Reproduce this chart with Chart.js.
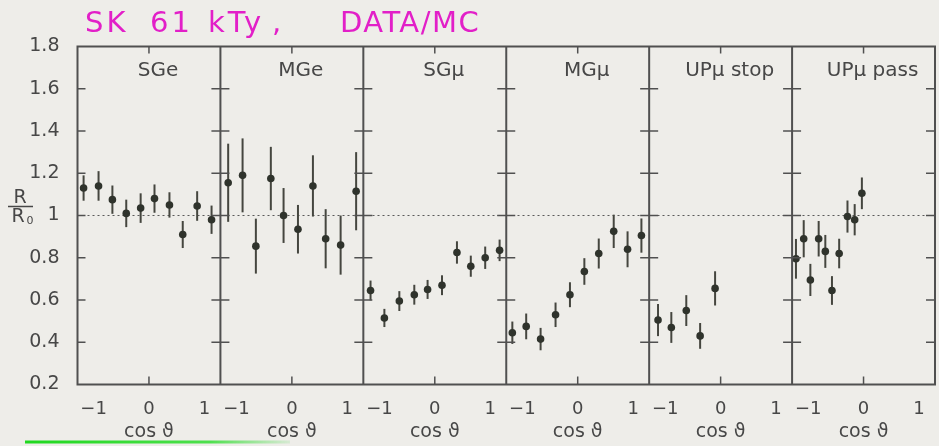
<!DOCTYPE html>
<html>
<head>
<meta charset="utf-8">
<script src="https://cdn.jsdelivr.net/npm/chart.js@4.4.0/dist/chart.umd.min.js"></script>
<style>
  html, body { margin: 0; padding: 0; background: #eeede9; overflow: hidden; }
  #wrap { position: relative; width: 939px; height: 446px; }
</style>
</head>
<body>
<div id="wrap"><canvas id="ratioChart" width="939" height="446"></canvas></div>
<script>
// R/R0 (data / MC) vs cos(theta), SK 61 kTy
const panels = ['SGe', 'MGe', 'SG\u03bc', 'MG\u03bc', 'UP\u03bc stop', 'UP\u03bc pass'];
const yTicks = [0.2, 0.4, 0.6, 0.8, 1.0, 1.2, 1.4, 1.6, 1.8];
const xTicks = [-1, 0, 1];

const sgeCos   = [-1.18, -0.91, -0.66, -0.41, -0.15, 0.10, 0.37, 0.61, 0.87, 1.13];
const sgeRatio = [1.13, 1.14, 1.075, 1.01, 1.035, 1.08, 1.05, 0.91, 1.045, 0.98];
const sgeErr   = [0.06, 0.07, 0.067, 0.065, 0.07, 0.067, 0.06, 0.064, 0.07, 0.067];

const mgeCos   = [-1.15, -0.89, -0.65, -0.38, -0.15, 0.11, 0.38, 0.61, 0.88, 1.16];
const mgeRatio = [1.155, 1.19, 0.855, 1.175, 1.0, 0.935, 1.14, 0.89, 0.86, 1.115];
const mgeErr   = [0.185, 0.175, 0.13, 0.15, 0.13, 0.115, 0.145, 0.14, 0.14, 0.185];

const sgmCos   = [-1.16, -0.91, -0.64, -0.37, -0.13, 0.13, 0.40, 0.65, 0.91, 1.17];
const sgmRatio = [0.645, 0.515, 0.595, 0.625, 0.65, 0.67, 0.825, 0.76, 0.80, 0.835];
const sgmErr   = [0.047, 0.043, 0.047, 0.047, 0.045, 0.047, 0.053, 0.05, 0.053, 0.051];

const mgmCos   = [-1.18, -0.93, -0.67, -0.40, -0.14, 0.12, 0.38, 0.65, 0.90, 1.15];
const mgmRatio = [0.445, 0.475, 0.415, 0.53, 0.625, 0.735, 0.82, 0.925, 0.84, 0.905];
const mgmErr   = [0.053, 0.061, 0.053, 0.058, 0.059, 0.063, 0.071, 0.079, 0.085, 0.081];

const stopCos   = [-1.13, -0.89, -0.62, -0.37, -0.10];
const stopRatio = [0.505, 0.47, 0.55, 0.43, 0.655];
const stopErr   = [0.076, 0.073, 0.073, 0.061, 0.081];

const passCos   = [-1.22, -1.08, -0.96, -0.81, -0.69, -0.57, -0.44, -0.29, -0.16, -0.03];
const passRatio = [0.795, 0.89, 0.695, 0.89, 0.83, 0.645, 0.82, 0.995, 0.98, 1.105];
const passErr   = [0.094, 0.088, 0.076, 0.084, 0.078, 0.068, 0.07, 0.076, 0.074, 0.075];

const series = [
  [sgeCos, sgeRatio, sgeErr],
  [mgeCos, mgeRatio, mgeErr],
  [sgmCos, sgmRatio, sgmErr],
  [mgmCos, mgmRatio, mgmErr],
  [stopCos, stopRatio, stopErr],
  [passCos, passRatio, passErr]
];

const FONT = 'DejaVu Sans';
const INK = '#474747';
const LINE = '#505050';
const DOT = '#2f332c';

const datasets = series.map(([cos, ratio, err], i) => ({
  label: panels[i],
  xAxisID: 'x' + i,
  yAxisID: 'y',
  data: cos.map((c, j) => ({ x: c, y: ratio[j] })),
  errors: err,
  pointRadius: 3.8,
  pointBackgroundColor: DOT,
  pointBorderWidth: 0,
  showLine: false
}));

const scales = {};
panels.forEach((name, i) => {
  scales['x' + i] = {
    type: 'linear',
    position: 'bottom',
    stack: 'panels',
    stackWeight: 1,
    min: -1.29,
    max: 1.29,
    afterBuildTicks: s => { s.ticks = xTicks.map(v => ({ value: v })); },
    afterFit: s => { s.height = 61.5; },
    ticks: {
      autoSkip: false,
      maxRotation: 0,
      padding: 6,
      color: INK,
      font: { family: FONT, size: 18 },
      callback: v => (v < 0 ? '\u2212' + Math.abs(v) : String(v))
    },
    grid: { display: false },
    border: { display: false },
    title: {
      display: true,
      text: 'cos \u03d1',
      color: INK,
      font: { family: FONT, size: 19 },
      padding: { top: 0, bottom: 3 }
    }
  };
});
scales.y = {
  type: 'linear',
  position: 'left',
  min: 0.2,
  max: 1.8,
  afterBuildTicks: s => { s.ticks = yTicks.map(v => ({ value: v })); },
  afterFit: s => { s.width = 77.5; },
  ticks: {
    padding: 10,
    color: INK,
    font: { family: FONT, size: 19 },
    callback: v => String(+v.toFixed(1))
  },
  grid: { display: false },
  border: { display: false }
};

function seg(ctx, x1, y1, x2, y2) {
  ctx.beginPath();
  ctx.moveTo(x1, y1);
  ctx.lineTo(x2, y2);
  ctx.stroke();
}

// dotted R/R0 = 1 line and the error bars, under the points
const errorBars = {
  id: 'errorBars',
  beforeDatasetsDraw(chart) {
    const { ctx, chartArea: a, scales: sc } = chart;
    const y = sc.y;
    ctx.save();
    ctx.strokeStyle = '#5a5a5a';
    ctx.lineWidth = 1.2;
    ctx.setLineDash([2, 3]);
    const y1 = y.getPixelForValue(1);
    seg(ctx, a.left, y1, a.right, y1);
    ctx.setLineDash([]);

    ctx.strokeStyle = '#45463f';
    ctx.lineWidth = 2;
    chart.data.datasets.forEach(ds => {
      const xs = sc[ds.xAxisID];
      ds.data.forEach((p, j) => {
        const px = xs.getPixelForValue(p.x);
        seg(ctx, px, y.getPixelForValue(p.y + ds.errors[j]), px, y.getPixelForValue(p.y - ds.errors[j]));
      });
    });
    ctx.restore();
  }
};

// panel frames, inward ticks and panel names
const panelFrame = {
  id: 'panelFrame',
  afterDatasetsDraw(chart) {
    const { ctx, chartArea: a, scales: sc } = chart;
    const y = sc.y;
    ctx.save();
    ctx.strokeStyle = LINE;
    ctx.lineWidth = 2;
    ctx.strokeRect(a.left, a.top, a.width, a.height);

    const inner = panels.slice(1).map((_, i) => sc['x' + (i + 1)].left);
    inner.forEach(xb => seg(ctx, xb, a.top, xb, a.bottom));

    ctx.lineWidth = 1.5;
    yTicks.slice(1, -1).forEach(v => {
      const py = y.getPixelForValue(v);
      seg(ctx, a.left, py, a.left + 8, py);
      inner.forEach(xb => seg(ctx, xb - 9, py, xb + 9, py));
      seg(ctx, a.right - 9, py, a.right, py);
    });

    ctx.fillStyle = INK;
    ctx.font = '20px "' + FONT + '"';
    ctx.textAlign = 'center';
    ctx.textBaseline = 'middle';
    panels.forEach((name, i) => {
      const xs = sc['x' + i];
      const x0 = xs.getPixelForValue(0);
      seg(ctx, x0, a.top, x0, a.top + 7);
      seg(ctx, x0, a.bottom - 8, x0, a.bottom);
      ctx.fillText(name, (xs.left + xs.right) / 2 + 9, 71);
    });
    ctx.restore();
  },
  afterDraw(chart) {
    const { ctx } = chart;
    ctx.save();
    // y axis label R / R0
    ctx.fillStyle = INK;
    ctx.strokeStyle = INK;
    ctx.font = '19px "' + FONT + '"';
    ctx.textAlign = 'center';
    ctx.textBaseline = 'alphabetic';
    ctx.fillText('R', 20, 203);
    ctx.lineWidth = 1.5;
    seg(ctx, 8, 206.5, 33, 206.5);
    ctx.fillText('R', 18, 222);
    ctx.font = '11px "' + FONT + '"';
    ctx.fillText('0', 30, 224);

    // handwritten header
    ctx.fillStyle = '#e21fc8';
    ctx.font = '29px "' + FONT + '"';
    ctx.textAlign = 'left';
    ctx.letterSpacing = '3px';
    ctx.fillText('SK', 85, 32);
    ctx.fillText('61', 150, 32);
    ctx.fillText('kTy', 208, 32);
    ctx.fillText(',', 272, 32);
    ctx.letterSpacing = '1.5px';
    ctx.fillText('DATA/MC', 340, 32);
    ctx.letterSpacing = '0px';

    // green marker stroke at the bottom
    const g = ctx.createLinearGradient(25, 0, 290, 0);
    g.addColorStop(0, '#1fd81f');
    g.addColorStop(0.7, '#4ee04e');
    g.addColorStop(1, 'rgba(90,220,90,0.15)');
    ctx.strokeStyle = g;
    ctx.lineWidth = 3;
    seg(ctx, 25, 442, 290, 442);
    ctx.restore();
  }
};

new Chart(document.getElementById('ratioChart'), {
  type: 'scatter',
  data: { datasets },
  options: {
    responsive: false,
    animation: false,
    layout: { padding: { top: 46.5, left: 0, right: 1, bottom: 0 } },
    scales,
    plugins: {
      legend: { display: false },
      tooltip: { enabled: false },
      title: { display: false }
    }
  },
  plugins: [errorBars, panelFrame]
});
</script>
</body>
</html>
